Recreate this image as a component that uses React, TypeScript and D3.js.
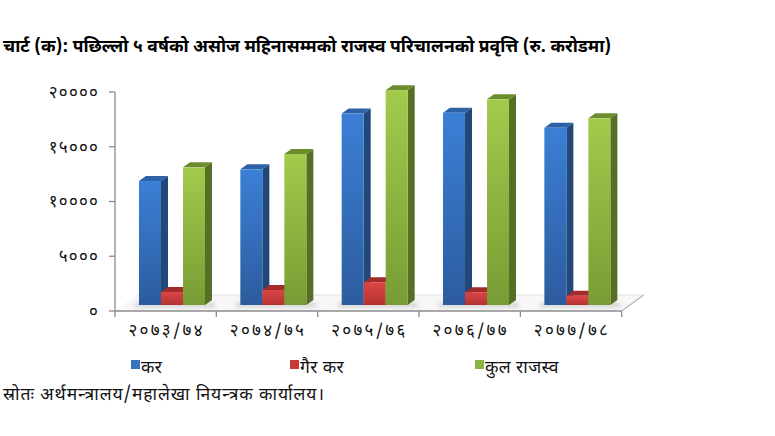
import React from "react";
import * as d3 from "d3";

const categories = ["२०७३/७४", "२०७४/७५", "२०७५/७६", "२०७६/७७", "२०७७/७८"];
const seriesNames = ["कर", "गैर कर", "कुल राजस्व"];
const taxValues = [11320, 12390, 17480, 17560, 16190];
const nonTaxValues = [1190, 1370, 2080, 1170, 850];
const totalValues = [12570, 13790, 19620, 18780, 17050];
const yTicks = [0, 5000, 10000, 15000, 20000];
const yTickLabels = ["०", "५०००", "१००००", "१५०००", "२००००"];
const title = "चार्ट (क): पछिल्लो ५ वर्षको असोज महिनासम्मको राजस्व परिचालनको प्रवृत्ति (रु. करोडमा)";
const source = "स्रोतः अर्थमन्त्रालय/महालेखा नियन्त्रक कार्यालय।";

const palette = [
  { top: "#3b7fd6", bottom: "#2c5c9e", side: "#22487a", cap: "#2d62a6", legend: "#3a72c0" },
  { top: "#dc4646", bottom: "#b53232", side: "#8c2323", cap: "#a22b2b", legend: "#c83a3a" },
  { top: "#a2cb4c", bottom: "#789c34", side: "#566f25", cap: "#6c8c2e", legend: "#8cb444" },
];

const FONT = "'Noto Sans Devanagari', 'Lohit Devanagari', 'Mangal', 'FreeSans', 'Noto Sans', sans-serif";

export default function App() {
  const W = 775, H = 436;
  const axisX = 115, axisRight = 621.7, axisY = 311;
  const floorDx = 22, floorDy = 16;
  const barBase = 305;
  const dx = 7, dy = 5;

  const x = d3.scaleBand<string>().domain(categories).range([axisX, axisRight]);
  const xs = d3.scaleBand<string>().domain(seriesNames).range([24, 90]);
  const yAxis = d3.scaleLinear().domain([0, 20000]).range([axisY, 92]);
  const hScale = d3.scaleLinear().domain([0, 20000]).range([0, axisY - 92]);

  const data = [taxValues, nonTaxValues, totalValues];

  const bars: React.ReactNode[] = [];
  categories.forEach((c, ci) => {
    seriesNames.forEach((s, si) => {
      const v = data[si][ci];
      const bx = (x(c) as number) + (xs(s) as number);
      const w = xs.bandwidth();
      const h = hScale(v);
      const ty = barBase - h;
      const p = palette[si];
      bars.push(
        <g key={`${ci}-${si}`}>
          <polygon
            points={`${bx + w},${ty} ${bx + w + dx},${ty - dy} ${bx + w + dx},${barBase - dy} ${bx + w},${barBase}`}
            fill={p.side}
          />
          <polygon
            points={`${bx},${ty} ${bx + dx},${ty - dy} ${bx + w + dx},${ty - dy} ${bx + w},${ty}`}
            fill={p.cap}
          />
          <rect x={bx} y={ty} width={w} height={h} fill={`url(#grad${si})`} />
        </g>
      );
    });
  });

  return (
    <svg width={W} height={H} style={{ position: "absolute", left: 0, top: 0, background: "#fff" }}>
      <defs>
        {palette.map((p, i) => (
          <linearGradient key={i} id={`grad${i}`} x1="0" y1="0" x2="0" y2="1">
            <stop offset="0%" stopColor={p.top} />
            <stop offset="100%" stopColor={p.bottom} />
          </linearGradient>
        ))}
        <filter id="blur" x="-20%" y="-200%" width="140%" height="500%">
          <feGaussianBlur stdDeviation="2" />
        </filter>
      </defs>

      <text x={3} y={52} fontFamily={FONT} fontWeight="bold" fontSize={17.5} fill="#000">
        {title}
      </text>

      {/* floor */}
      <polygon
        points={`${axisX},${axisY} ${axisRight},${axisY} ${axisRight + floorDx},${axisY - floorDy} ${axisX + floorDx},${axisY - floorDy}`}
        fill="#f7f7f7"
        stroke="none"
      />
      <line x1={axisX + floorDx} y1={axisY - floorDy} x2={axisRight + floorDx} y2={axisY - floorDy} stroke="#e2e2e2" />
      <line x1={axisRight} y1={axisY} x2={axisRight + floorDx} y2={axisY - floorDy} stroke="#9a9a9a" />

      {/* shadows */}
      {categories.map((c) => (
        <rect
          key={c}
          x={(x(c) as number) + 20}
          y={barBase - 2}
          width={80}
          height={4}
          fill="#bdbdbd"
          filter="url(#blur)"
          opacity={0.7}
        />
      ))}

      {bars}

      {/* y axis */}
      <line x1={axisX} y1={92} x2={axisX} y2={axisY} stroke="#8c8c8c" strokeWidth={1.3} />
      {yTicks.map((t, i) => (
        <g key={t}>
          <line x1={axisX - 6} y1={yAxis(t)} x2={axisX} y2={yAxis(t)} stroke="#8c8c8c" strokeWidth={1.3} />
          <text
            x={99}
            y={yAxis(t)}
            dy="0.35em"
            textAnchor="end"
            fontFamily={FONT}
            fontSize={17}
            letterSpacing={1.2}
            fill="#111"
          >
            {yTickLabels[i]}
          </text>
        </g>
      ))}

      {/* x axis */}
      <line x1={axisX} y1={axisY} x2={axisRight} y2={axisY} stroke="#8c8c8c" strokeWidth={1.3} />
      {[...categories.map((c) => x(c) as number), axisRight].map((tx, i) => (
        <line key={i} x1={tx} y1={axisY} x2={tx} y2={axisY + 6} stroke="#8c8c8c" strokeWidth={1.3} />
      ))}
      {categories.map((c) => (
        <text
          key={c}
          x={(x(c) as number) + x.bandwidth() / 2 + 1}
          y={336}
          textAnchor="middle"
          fontFamily={FONT}
          fontSize={17}
          letterSpacing={2.3}
          fill="#111"
        >
          {c}
        </text>
      ))}

      {/* legend */}
      {seriesNames.map((s, i) => {
        const lx = [131, 290, 475][i];
        return (
          <g key={s}>
            <rect x={lx} y={360} width={9} height={9} fill={palette[i].legend} />
            <text x={lx + 10} y={373} fontFamily={FONT} fontSize={17.5} letterSpacing={0.4} fill="#111">
              {s}
            </text>
          </g>
        );
      })}

      <text x={3} y={400} fontFamily={FONT} fontSize={17.5} letterSpacing={0.9} fill="#111">
        {source}
      </text>
    </svg>
  );
}
